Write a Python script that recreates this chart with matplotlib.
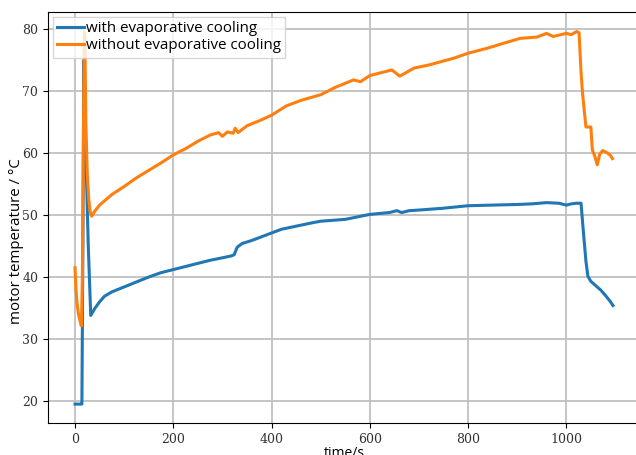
import matplotlib
matplotlib.use('Agg')
import matplotlib.pyplot as plt

# time in s, motor temperature in degC
t_with = [0, 5, 10, 14, 16, 18, 22, 27, 32, 40, 50, 60, 75, 100, 125, 150, 175, 200,
          225, 250, 275, 300, 318, 324, 330, 340, 360, 380, 400, 420, 450, 480, 500,
          550, 600, 640, 655, 665, 680, 700, 750, 800, 850, 900, 930, 960, 985, 1000,
          1010, 1020, 1030, 1034, 1040, 1044, 1050, 1060, 1070, 1080, 1090, 1095]
temp_with = [19.5, 19.5, 19.5, 19.5, 45.0, 75.0, 60.0, 45.0, 33.8, 34.9, 36.0, 36.9,
             37.6, 38.4, 39.2, 40.0, 40.7, 41.2, 41.7, 42.2, 42.7, 43.1, 43.4, 43.6,
             44.8, 45.4, 45.9, 46.5, 47.1, 47.7, 48.2, 48.7, 49.0, 49.3, 50.1, 50.4,
             50.7, 50.4, 50.7, 50.8, 51.1, 51.5, 51.6, 51.7, 51.8, 52.0, 51.9, 51.6,
             51.8, 51.9, 51.9, 48.0, 42.5, 40.1, 39.3, 38.6, 37.9, 37.0, 36.0, 35.4]

t_without = [0, 2, 4, 7, 10, 13, 15, 17, 19, 20, 22, 25, 28, 31, 34, 40, 50, 75, 100,
             125, 150, 175, 200, 225, 250, 275, 292, 300, 310, 322, 326, 332, 350,
             375, 400, 430, 460, 500, 530, 567, 581, 600, 645, 661, 690, 720, 771,
             800, 839, 872, 906, 940, 960, 973, 1000, 1010, 1021, 1026, 1030, 1033,
             1037, 1040, 1050, 1053, 1058, 1063, 1068, 1074, 1084, 1090, 1094]
temp_without = [41.5, 38.0, 35.8, 34.0, 33.0, 32.1, 40.0, 62.0, 79.5, 79.0, 65.0, 56.5,
                52.5, 50.5, 49.8, 50.6, 51.6, 53.3, 54.6, 56.0, 57.2, 58.4, 59.7, 60.7,
                61.9, 62.9, 63.3, 62.7, 63.4, 63.2, 64.0, 63.3, 64.4, 65.2, 66.1, 67.6,
                68.5, 69.4, 70.6, 71.8, 71.5, 72.5, 73.4, 72.4, 73.7, 74.2, 75.3, 76.1,
                76.9, 77.7, 78.5, 78.7, 79.3, 78.8, 79.3, 79.1, 79.6, 79.4, 73.0, 69.7,
                66.5, 64.2, 64.2, 60.5, 59.5, 58.1, 59.8, 60.4, 60.0, 59.6, 59.1]

xticks = [0, 200, 400, 600, 800, 1000]
yticks = [20, 30, 40, 50, 60, 70, 80]

fig = plt.figure(figsize=(6.36, 4.55), dpi=100)
ax = fig.add_axes([48 / 636, 32 / 455, 592 / 636, 411 / 455])

ax.plot(t_with, temp_with, color='#1f77b4', lw=2.2, label='with evaporative cooling')
ax.plot(t_without, temp_without, color='#ff7f0e', lw=2.2, label='without evaporative cooling')

ax.set_xlim(-55, 1150)
ax.set_ylim(16.45, 82.75)
ax.set_xticks(xticks)
ax.set_yticks(yticks)
ax.grid(True, color='#c0c0c0', lw=1.3)
ax.set_axisbelow(True)

for lab in ax.get_xticklabels() + ax.get_yticklabels():
    lab.set_family('DejaVu Serif')
    lab.set_fontsize(9)
    lab.set_color('#333333')

ax.set_xlabel('time/s', family='Open Sans', fontsize=10, labelpad=0)
ax.set_ylabel('motor temperature / °C', family='Open Sans', fontsize=10.8)
ax.yaxis.set_label_coords(-0.041, 0.443)

ax.legend(loc='upper left', prop={'family': 'Open Sans', 'size': 10.9},
          handlelength=1.75, handletextpad=0.15, labelspacing=0.15,
          borderpad=0.3, borderaxespad=0.3, fancybox=False, edgecolor='#cccccc')

fig.savefig('out.png', dpi=100)
